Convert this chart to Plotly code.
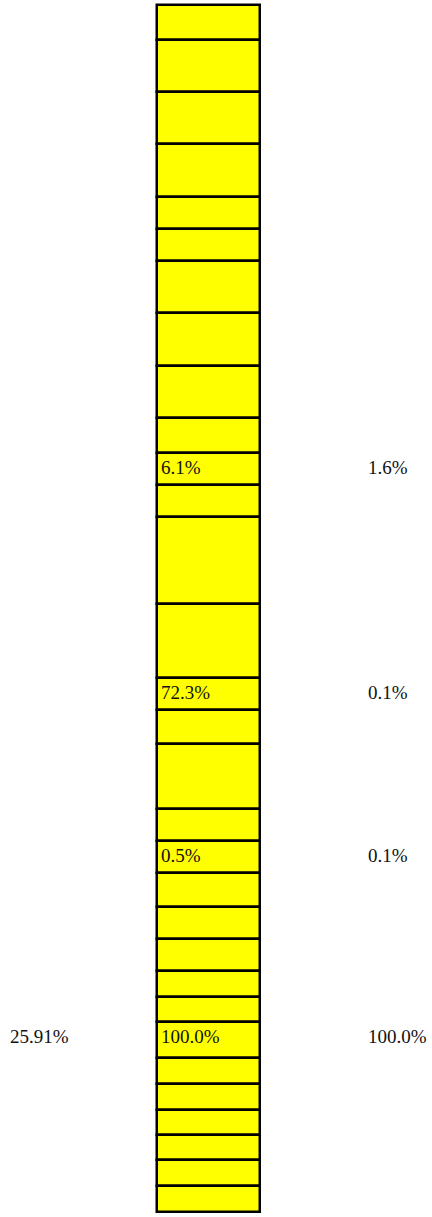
import numpy as np
import plotly.graph_objects as go

# Segment sizes of the stacked column (top to bottom)
segment_sizes = [35, 52, 52, 53, 32, 32, 52, 53, 52, 35, 32, 32, 87, 74, 32, 34,
                 65, 32, 32, 34, 32, 32, 26, 25, 36, 26, 26, 25, 25, 26, 26]

# Labels (row index -> text)
mid_labels = {10: "6.1%", 14: "72.3%", 18: "0.5%", 24: "100.0%"}
right_labels = {10: "1.6%", 14: "0.1%", 18: "0.1%", 24: "100.0%"}
left_labels = {24: "25.91%"}

W, H = 432, 1217
top = 5.3
sizes = np.array(segment_sizes, dtype=float)
bases = top + np.concatenate([[0], np.cumsum(sizes)[:-1]])

x_left, x_right = 156.5, 260.0
x_center = (x_left + x_right) / 2

fig = go.Figure()
fig.add_trace(go.Bar(
    x=[x_center] * len(sizes),
    y=sizes,
    base=bases,
    width=x_right - x_left,
    marker=dict(color="#FFFF00", line=dict(color="#000000", width=2.5)),
    hoverinfo="skip",
    showlegend=False,
))

font = dict(family="Liberation Serif, Times New Roman, serif", size=19, color="#111111")
annotations = []
for labels, xpos in ((left_labels, 8), (mid_labels, 159), (right_labels, 365.5)):
    for i, txt in labels.items():
        annotations.append(dict(
            x=xpos, y=bases[i] + 14, xref="x", yref="y", text=txt,
            showarrow=False, xanchor="left", yanchor="middle", font=font,
        ))

fig.update_layout(
    width=W, height=H,
    margin=dict(l=0, r=0, t=0, b=0),
    paper_bgcolor="white", plot_bgcolor="white",
    xaxis=dict(range=[0, W], visible=False, fixedrange=True),
    yaxis=dict(range=[H, 0], visible=False, fixedrange=True),
    annotations=annotations,
    bargap=0,
)
fig.write_html("out.html", post_script="document.body.style.margin='0';document.body.style.overflow='hidden';",
               config={"displayModeBar": False})
